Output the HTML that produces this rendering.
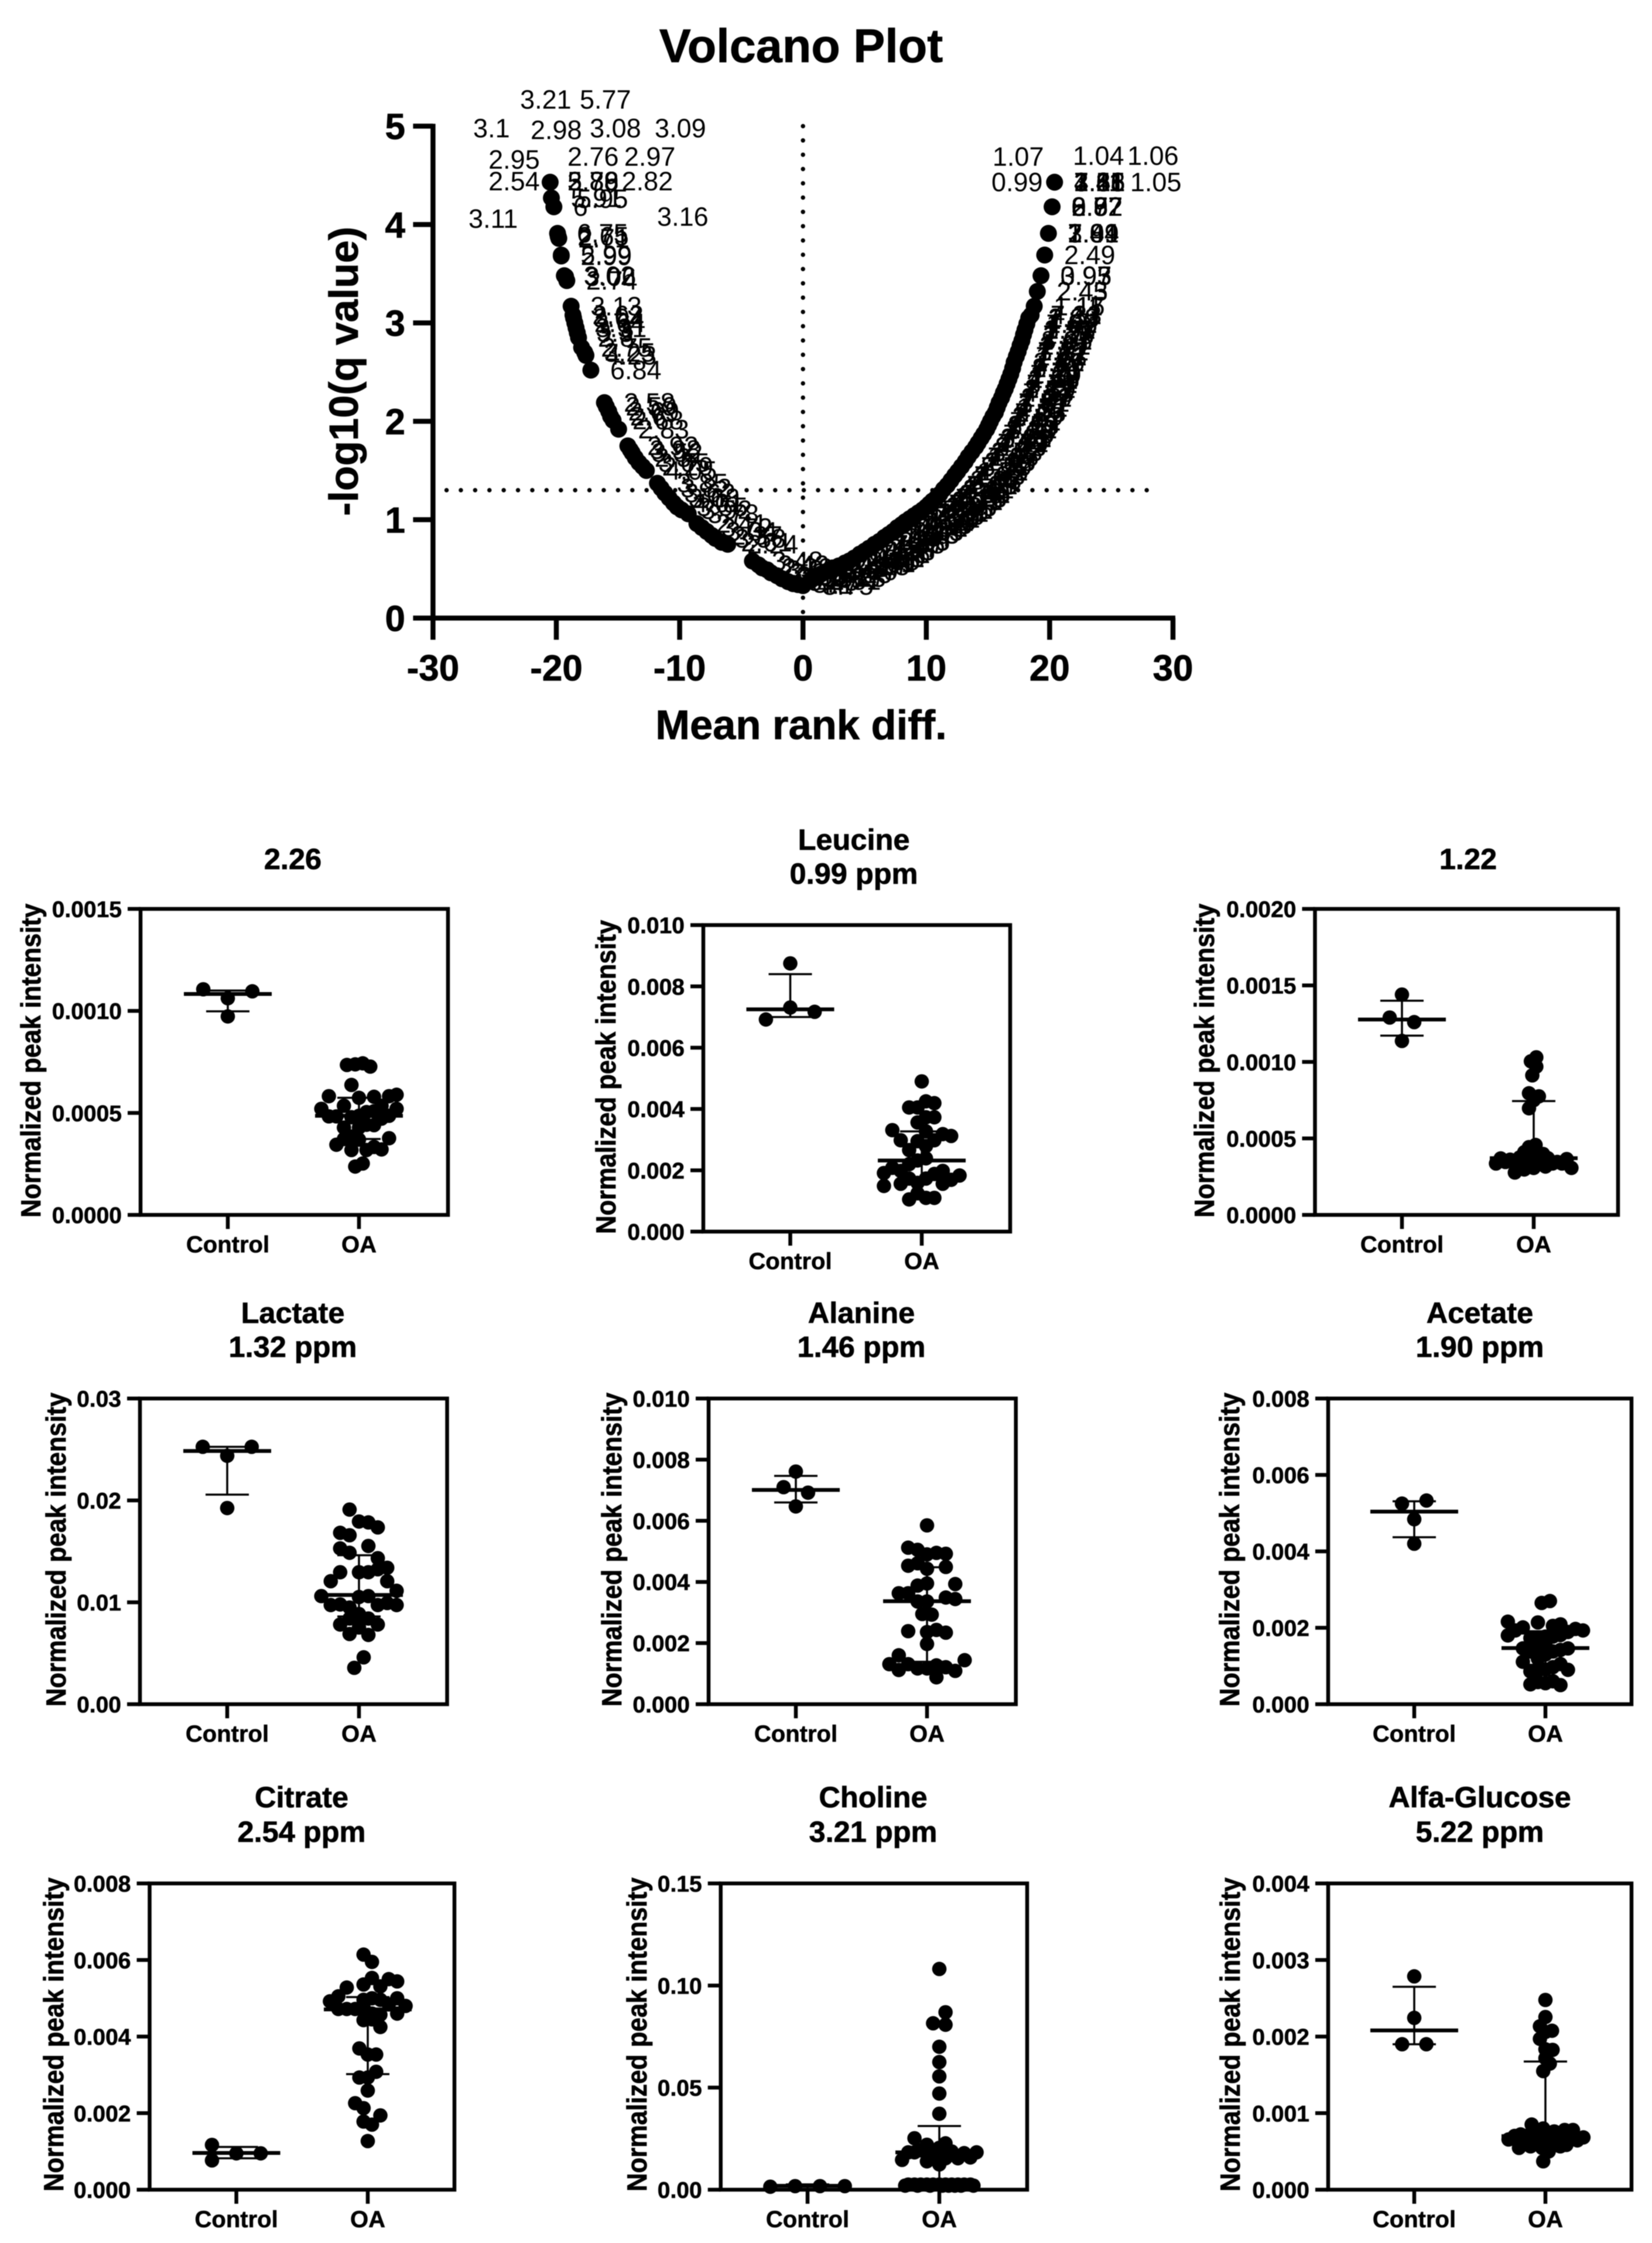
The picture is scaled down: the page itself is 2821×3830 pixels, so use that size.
<!DOCTYPE html>
<html lang="en">
<head>
<meta charset="utf-8">
<title>Volcano Plot and metabolite panels</title>
<style>
html,body{margin:0;padding:0;background:#fff}
svg{display:block;filter:blur(.8px)}
text{font-family:"Liberation Sans",Arial,sans-serif;fill:#000}
.b{font-weight:700;stroke:#000;stroke-width:.8px}
.pt{font-size:50.5px;font-weight:700;text-anchor:middle;stroke:#000;stroke-width:.8px}
.yt{font-size:47px;font-weight:700;text-anchor:middle;stroke:#000;stroke-width:.8px}
</style>
</head>
<body>
<svg id="figure" xmlns="http://www.w3.org/2000/svg" width="2821" height="3830" viewBox="0 0 2821 3830">
<rect width="2821" height="3830" fill="#fff"/>

<g id="volcano">
<text class="b" x="1368" y="106" font-size="81" text-anchor="middle">Volcano Plot</text>
<text class="b" x="1368" y="1262" font-size="70.5" text-anchor="middle">Mean rank diff.</text>
<text class="b" transform="translate(611,634) rotate(-90)" font-size="70" text-anchor="middle">-log10(q value)</text>
</g>

<g id="panel-0">
<text class="pt" x="500" y="1484">2.26</text>
<text class="yt" transform="translate(69,1811) rotate(-90)" textLength="536" lengthAdjust="spacingAndGlyphs">Normalized peak intensity</text>
</g>
<g id="panel-1">
<text class="pt" x="1458" y="1451">Leucine</text>
<text class="pt" x="1458" y="1509">0.99 ppm</text>
<text class="yt" transform="translate(1051,1839) rotate(-90)" textLength="536" lengthAdjust="spacingAndGlyphs">Normalized peak intensity</text>
</g>
<g id="panel-2">
<text class="pt" x="2507" y="1484">1.22</text>
<text class="yt" transform="translate(2073,1811) rotate(-90)" textLength="536" lengthAdjust="spacingAndGlyphs">Normalized peak intensity</text>
</g>
<g id="panel-3">
<text class="pt" x="500" y="2259">Lactate</text>
<text class="pt" x="500" y="2317">1.32 ppm</text>
<text class="yt" transform="translate(112,2646) rotate(-90)" textLength="536" lengthAdjust="spacingAndGlyphs">Normalized peak intensity</text>
</g>
<g id="panel-4">
<text class="pt" x="1471" y="2259">Alanine</text>
<text class="pt" x="1471" y="2317">1.46 ppm</text>
<text class="yt" transform="translate(1061,2646) rotate(-90)" textLength="536" lengthAdjust="spacingAndGlyphs">Normalized peak intensity</text>
</g>
<g id="panel-5">
<text class="pt" x="2527" y="2259">Acetate</text>
<text class="pt" x="2527" y="2317">1.90 ppm</text>
<text class="yt" transform="translate(2116,2646) rotate(-90)" textLength="536" lengthAdjust="spacingAndGlyphs">Normalized peak intensity</text>
</g>
<g id="panel-6">
<text class="pt" x="515" y="3086">Citrate</text>
<text class="pt" x="515" y="3145">2.54 ppm</text>
<text class="yt" transform="translate(108,3474) rotate(-90)" textLength="536" lengthAdjust="spacingAndGlyphs">Normalized peak intensity</text>
</g>
<g id="panel-7">
<text class="pt" x="1491" y="3086">Choline</text>
<text class="pt" x="1491" y="3145">3.21 ppm</text>
<text class="yt" transform="translate(1104,3474) rotate(-90)" textLength="536" lengthAdjust="spacingAndGlyphs">Normalized peak intensity</text>
</g>
<g id="panel-8">
<text class="pt" x="2527" y="3086">Alfa-Glucose</text>
<text class="pt" x="2527" y="3145">5.22 ppm</text>
<text class="yt" transform="translate(2117,3474) rotate(-90)" textLength="536" lengthAdjust="spacingAndGlyphs">Normalized peak intensity</text>
</g>
</svg>

<script>
/* ---------- volcano data ---------- */
const volcanoXTicks = ["-30","-20","-10","0","10","20","30"];
const volcanoYTicks = ["0","1","2","3","4","5"];
const qThreshold = 1.3;

const leftX = [-20.5,-20.4,-20.2,-19.9,-19.85,-19.8,-19.6,-19.6,-19.35,-19.25,-19.15,-18.8,-18.65,-18.6,-18.5,-18.4,-18.3,-18.2,-17.95,-17.7,-17.6,-17.2,-16.1,-15.95,-15.75,-15.6,-15.4,-14.95,-14.2,-14,-13.85,-13.6,-13.3,-13,-12.7,-11.8,-11.5,-11.2,-10.85,-10.5,-10.2,-9.85,-9.3,-8.6,-8.2,-7.8,-7.4,-7.1,-6.6,-6.1,-4.1,-3.6,-3.3,-2.9,-2.6,-2.1,-1.7,-1.2,-0.8,-0.4,0];
const leftY = [4.43,4.27,4.18,3.91,3.88,3.86,3.69,3.68,3.48,3.47,3.43,3.17,3.08,3.05,3.0,2.95,2.9,2.85,2.75,2.7,2.67,2.52,2.19,2.15,2.1,2.05,2.01,1.92,1.75,1.71,1.68,1.63,1.58,1.54,1.5,1.37,1.32,1.27,1.22,1.17,1.13,1.1,1.06,0.96,0.92,0.88,0.84,0.81,0.77,0.75,0.58,0.54,0.51,0.49,0.46,0.43,0.4,0.37,0.35,0.34,0.33];
const leftLabels = ["","5.91","6","6.75","2.65","2.71","5.99","2.99","3.02","3.06","2.74","3.13","2.62","3.04","2.64","3.31","3.3","2.8","2.75","3.25","4.23","6.84","2.58","2.59","2.69","2.6","2.68","2.83","2.92","3.98","3.52","2.3","3.65","2.29","4.05","3.85","3.82","3.62","3.68","4.01","3.55","3.92","3.78","2.41","3.72","3.34","2.37","3.58","2.61","2.24","3.48","3.42","2.33","3.61","2.31","3.38","2.35","3.45","3.7","4.1","3.75"];

const rightX = [20.4,20.2,19.9,19.6,19.3,19,18.75,18.5,18.3,18.15,18,17.88,17.75,17.6,17.45,17.3,17.12,17,16.85,16.7,16.55,16.4,16.25,16.1,15.9,15.75,15.6,15.4,15.2,15.05,14.9,14.65,14.45,14.2,14,13.7,13.4,13.15,12.85,12.55,12.3,12,11.7,11.4,11.1,10.8,10.5,10.25,10,9.7,9.35,9,8.65,8.3,8,7.65,7.3,6.95,6.6,6.2,5.8,5.35,5,4.6,4.15,3.75,3.4,2.9,2.4,2,1.5,1,0.6];
const rightY = [4.43,4.18,3.91,3.69,3.48,3.32,3.17,3.08,3.05,2.99,2.93,2.88,2.82,2.77,2.71,2.66,2.6,2.54,2.48,2.43,2.38,2.33,2.29,2.24,2.19,2.14,2.09,2.05,2,1.96,1.92,1.87,1.83,1.78,1.74,1.69,1.64,1.59,1.54,1.49,1.45,1.4,1.35,1.31,1.26,1.22,1.19,1.16,1.13,1.1,1.07,1.04,1.01,0.98,0.95,0.92,0.88,0.85,0.82,0.78,0.75,0.71,0.68,0.65,0.61,0.58,0.56,0.53,0.51,0.48,0.45,0.41,0.38];
const rightLabels = [
"7.45 3.88 2.41 4.11 1.25 3.55 1.66 7.81","8.52 2.72 0.87 3.92 6.62","7.01 2.84 1.94 3.44 7.09","2.49","0.97 3.95 3.93","2.43 2.45","1.17 1.11 1.15",
"4.13 7.31","1.43 2.39","7.25 1.88 4.02","3.91 1.53","7.75 2.33 1.37","4.61 8.05","2.21 1.61","7.17 3.81 1.72",
"1.21 7.63","4.41 2.27 3.86","1.97 8.11","7.39 1.39","2.13 4.55 1.49","3.74 7.21","1.81 8.37 2.19","4.17 7.53",
"1.31 2.09","7.87 3.71 1.57","4.31 1.77","2.05 7.13 8.23","1.69 3.67","4.47 7.41","2.17 1.63 3.59","8.31 1.29",
"7.69 4.25","1.91 3.63 2.11","4.71 1.59 7.27","2.03 8.45","3.77 1.83","7.05 4.37 1.47","2.15 1.99","8.19 3.57 7.59",
"1.75 4.81","2.07 7.93 1.33","3.83 4.67","1.85 7.49 2.01","8.61 1.41","3.69 4.91 1.55","7.15 2.23","1.79 8.15 4.21",
"3.97 7.67","1.95 2.25 4.35","8.41 7.35","1.89 3.87 4.51","2.35 7.57","1.51 8.27 3.79","4.65 7.11","1.93 3.99",
"2.31 7.85 4.85","8.09 1.73","3.73 4.45 7.23","1.87 2.47","8.55 3.89","4.57 7.47 1.65","2.37 3.47","8.33 4.75",
"1.45 7.71","3.51 2.51 4.95","8.47 1.35","7.61 3.49","4.27 2.53","1.27 8.67","7.77 3.29","2.55 4.15","1.23 3.27","8.71 2.57"];

const extraLabels = ["3.21","5.77","3.1","2.98","3.08","3.09","2.95","2.76","2.97","2.54","2.82","5.78","2.88","5.89","2.86","3.88","3.11","3.16","5.95","1.07","1.04","1.06","0.99","1.05"];
const extraX = [-22.94,-18.1,-26.74,-22.09,-17.29,-12.02,-25.5,-19.1,-14.5,-25.5,-14.7,-19.1,-19.1,-19.1,-19.1,-19.1,-27.12,-11.83,-18.34,15.37,21.88,26.3,15.28,26.53];
const extraY = [5.27,5.27,4.98,4.96,4.98,4.98,4.66,4.69,4.69,4.44,4.44,4.44,4.44,4.44,4.44,4.44,4.06,4.08,4.26,4.69,4.7,4.7,4.43,4.43];

/* ---------- group panel data ---------- */
const categories = ["Control","OA"];

const p0Ticks = ["0.0000","0.0005","0.0010","0.0015"];
const p0Ctrl = [0.001106,0.001062,0.000973,0.001096];
const p0CtrlSlots = [-3.26,0,0,3.26];
const p0CtrlStats = [0.001083,0.0011,0.000998];
const p0Oa = [.000735,.000738,.000743,.000727,.000637,.000582,.000574,.000579,.000582,.000589,.000520,.000535,.000535,.000520,.000483,.000483,.000479,.000486,.000504,.000508,.000486,.000472,.000428,.000428,.000442,.000440,.000384,.000372,.000376,.000369,.000344,.000318,.000318,.000321,.000333,.000237,.000252];
const p0OaSlots = [-1.6,-.5,.5,1.5,-1,-4,0,2,4,5,-5,-2,3,5,-4,-3,-1,0,1,2,4,3,-2,0,1,2,-1,-2,4,0,-3,-1,1,3,2,-.5,.5];
const p0OaStats = [0.000486,0.000574,0.000372];

const p1Ticks = ["0.000","0.002","0.004","0.006","0.008","0.010"];
const p1Ctrl = [.00692,.00731,.00717,.00875];
const p1CtrlSlots = [-2.9,0,2.9,0];
const p1CtrlStats = [.00725,.0084,.0070];
const p1Oa = [.0049,.00405,.00405,.00425,.00419,.00356,.00373,.00373,.00331,.00327,.00318,.00312,.00298,.00295,.00298,.00279,.00266,.00232,.00239,.0022,.00208,.00191,.00198,.00198,.00188,.00183,.00169,.00173,.00173,.00159,.00156,.00156,.00149,.00125,.00105,.0011,.0011];
const p1OaSlots = [0,-1.5,-.5,.5,1.5,-.5,.5,1.5,-3.5,.5,2.5,3.5,-2.5,-.5,1.5,.5,-1.5,-.5,.5,-1.5,-3.5,-4.5,-2.5,2.5,1.5,4.5,3.5,.5,-1.5,-.5,2.5,-2.5,-4.5,-.5,-1.5,.5,1.5];
const p1OaStats = [.00232,.00327,.0017];

const p2Ticks = ["0.0000","0.0005","0.0010","0.0015","0.0020"];
const p2Ctrl = [.00144,.00129,.00126,.001137];
const p2CtrlSlots = [0,-2.6,2.6,0];
const p2CtrlStats = [.001277,.0014,.001172];
const p2Oa = [.00103,.001004,.000969,.000912,.000795,.000775,.00075,.000697,.000457,.000443,.00041,.000398,.000414,.000371,.000365,.000369,.000361,.000375,.000336,.000307,.000277,.000307,.000346,.000316,.000336,.000355,.000355,.000346,.000336,.000336,.000297,.000355,.000336,.000316,.000355,.000326];
const p2OaSlots = [.55,-.6,.55,-.3,-1,1.1,0,-1,.4,-1,-2,2,-.3,3,7,-7,-5,-3,-8,8,-4,0,5,2.5,-2,.7,-1,-6,6,4,-2,0,1.4,-1,2,-3];
const p2OaStats = [.000371,.000744,.00033];

const p3Ticks = ["0.00","0.01","0.02","0.03"];
const p3Ctrl = [.02526,.02438,.01925,.02526];
const p3CtrlSlots = [-2.6,0,0,2.6];
const p3CtrlStats = [.02485,.02526,.02057];
const p3Oa = [.0191,.01793,.01784,.01735,.01682,.01658,.01553,.01529,.01486,.01433,.01339,.01324,.01295,.01295,.01295,.01207,.01207,.01113,.01061,.01052,.01061,.00973,.00979,.00949,.00973,.00993,.00973,.00885,.00841,.00841,.00782,.00782,.00753,.00689,.0068,.0046,.00357];
const p3OaSlots = [-1,0,1,2,-2,-1,1,-2,-1,2,3,2,1,0,-2,-3,3,4,-4,0,1,-3,-2,-1,2,3,4,0,-1,1,-2,2,0,-1,1,.5,-.5];
const p3OaStats = [.01072,.01462,.00861];

const p4Ticks = ["0.000","0.002","0.004","0.006","0.008","0.010"];
const p4Ctrl = [.00761,.0071,.00692,.00647];
const p4CtrlSlots = [0,-1.3,1.3,0];
const p4CtrlStats = [.00701,.00747,.0066];
const p4Oa = [.00585,.00512,.00505,.0049,.00495,.00492,.00453,.00461,.00443,.00449,.00393,.00395,.00388,.00363,.00363,.00336,.00336,.00349,.00344,.00295,.00293,.00239,.00236,.00243,.00234,.00197,.0016,.00131,.00131,.00127,.00121,.00144,.00112,.00117,.00117,.00109,.00088];
const p4OaSlots = [0,-2,-1,0,1,2,-2,-1,0,2,3,0,-1,-3,-2,-1,0,2,3,-.5,.5,-2,0,1,2,0,-3,-4,-2,1,2,4,-3,-1,0,3,1];
const p4OaStats = [.00337,.00448,.00139];

const p5Ticks = ["0.000","0.002","0.004","0.006","0.008"];
const p5Ctrl = [.00525,.00533,.00484,.0042];
const p5CtrlSlots = [-1.63,1.63,0,0];
const p5CtrlStats = [.00504,.00531,.00437];
const p5Oa = [.00265,.0027,.00216,.00214,.00209,.00205,.00201,.00193,.0018,.00197,.00193,.00189,.00173,.00173,.00177,.00177,.00181,.00154,.00154,.00146,.00138,.00142,.00146,.00138,.0013,.00111,.00119,.00105,.00097,.00091,.00086,.000875,.0009,.00058,.0006,.00052,.00055,.0005];
const p5OaSlots = [-.5,.6,-5,-1,2,1,-3,-4,-5,4,5,3,-2,-1,0,1,2,0,-1,-3,1,2,3,-2,0,-3,-1,2,1,0,-2,-1,3,-1,1,-2,0,2];
const p5OaStats = [.00147,.00191,.00103];

const p6Ticks = ["0.000","0.002","0.004","0.006","0.008"];
const p6Ctrl = [.00117,.00095,.00095,.000765];
const p6CtrlSlots = [-2.9,0,2.9,-2.9];
const p6CtrlStats = [.00096,.001116,.00082];
const p6Oa = [.00614,.00595,.00553,.00536,.00531,.0055,.00544,.00528,.00505,.00492,.00496,.005,.00496,.005,.0048,.00472,.00472,.00472,.00476,.00484,.0046,.00457,.0046,.00443,.00445,.00425,.00369,.00353,.00353,.00308,.00293,.00293,.00259,.00226,.00213,.00194,.00178,.0017,.00127];
const p6OaSlots = [-.5,.5,.5,-.5,1.5,2.5,3.5,-2.5,-3.5,-4.5,-.5,.5,1.5,3.5,4.5,-3.5,-2.5,-1.5,-.5,2.5,3.5,1.5,.5,-.5,.5,1.5,-1,0,1,1,0,-1,0,-1.5,-.5,1.5,-.5,.5,0];
const p6OaStats = [.00471,.00503,.00302];

const p7Ticks = ["0.00","0.05","0.10","0.15"];
const p7Ctrl = [.00146,.00176,.00176,.00176];
const p7CtrlSlots = [-6,-2,2,6];
const p7CtrlStats = [.0019,.0026,.0003];
const p7Oa = [.1081,.0869,.0815,.0808,.07,.0625,.0555,.0471,.0372,.0252,.0227,.022,.0187,.0179,.0183,.0183,.0146,.0183,.0139,.0187,.0205,.0124,.0154,.0154,.0158,.0193,.0154,.0025,.0025,.0025,.0025,.0025,.0025,.0025,.0025,.0025,.0025,.0025,.002,.002,.002,.002,.002,.002,.002,.002];
const p7OaSlots = [0,1,-1,1,0,0,0,0,0,-4,1,-2,2,4,6,-5,-6,-4,-2,-1,0,0,1,3,5,-3,-1,-5,-4,-3,-2,-1,0,1,2,3,4,5,-5.5,-3.5,-1.5,.5,1.5,2.5,3.5,5.5];
const p7OaStats = [.0183,.0312,.005];

const p8Ticks = ["0.000","0.001","0.002","0.003","0.004"];
const p8Ctrl = [.002786,.002244,.0019,.0019];
const p8CtrlSlots = [0,0,-2.2,2.2];
const p8CtrlStats = [.00208,.00265,.0019];
const p8Oa = [.002478,.002255,.002134,.002076,.00197,.00206,.001834,.001826,.001717,.001647,.001549,.000851,.0008,.000761,.00078,.00078,.000656,.000702,.000722,.000702,.000722,.000683,.000683,.000683,.000644,.000683,.000546,.000566,.000546,.0005,.000566,.000585,.000371,.000644,.000624,.000605];
const p8OaSlots = [0,0,-1,1.2,-1,0,0,1.3,0,.8,-.4,-2.5,-.4,1.6,3.5,5,-6.7,-5.6,-4.5,-3.6,-1.7,.8,2.4,4.4,5.8,6.9,-4.8,-2.7,-.6,.6,2.7,3.8,-.4,-1.4,-3.9,1.6];
const p8OaStats = [.0007,.001674,.0006];

/* ---------- layout (pixel geometry, separate from the data) ---------- */
const layouts = [
 {left:240,right:765,top:1552,bottom:2074.5,c1:389,c2:613,step:12.85},
 {left:1201,right:1725,top:1579.6,bottom:2103,c1:1349.5,c2:1574,step:14.35},
 {left:2245.5,right:2763,top:1552,bottom:2074.5,c1:2394,c2:2619,step:8.05},
 {left:239,right:763.5,top:2388,bottom:2910,c1:388,c2:613,step:16.07},
 {left:1210,right:1734.7,top:2388,bottom:2910,c1:1359,c2:1583,step:16.07},
 {left:2268,right:2786,top:2388,bottom:2910,c1:2415,c2:2639,step:12.83},
 {left:255.5,right:776,top:3216,bottom:3739,c1:403.6,c2:628,step:14.35},
 {left:1230.7,right:1754,top:3216,bottom:3739,c1:1379,c2:1604,step:10.6},
 {left:2268,right:2786,top:3216,bottom:3739,c1:2415,c2:2639,step:9.4}
];
const panelData = [
 [p0Ticks,p0Ctrl,p0CtrlSlots,p0CtrlStats,p0Oa,p0OaSlots,p0OaStats],
 [p1Ticks,p1Ctrl,p1CtrlSlots,p1CtrlStats,p1Oa,p1OaSlots,p1OaStats],
 [p2Ticks,p2Ctrl,p2CtrlSlots,p2CtrlStats,p2Oa,p2OaSlots,p2OaStats],
 [p3Ticks,p3Ctrl,p3CtrlSlots,p3CtrlStats,p3Oa,p3OaSlots,p3OaStats],
 [p4Ticks,p4Ctrl,p4CtrlSlots,p4CtrlStats,p4Oa,p4OaSlots,p4OaStats],
 [p5Ticks,p5Ctrl,p5CtrlSlots,p5CtrlStats,p5Oa,p5OaSlots,p5OaStats],
 [p6Ticks,p6Ctrl,p6CtrlSlots,p6CtrlStats,p6Oa,p6OaSlots,p6OaStats],
 [p7Ticks,p7Ctrl,p7CtrlSlots,p7CtrlStats,p7Oa,p7OaSlots,p7OaStats],
 [p8Ticks,p8Ctrl,p8CtrlSlots,p8CtrlStats,p8Oa,p8OaSlots,p8OaStats]
];

/* ---------- drawing ---------- */
const NS = "http://www.w3.org/2000/svg";
function mk(parent, tag, attrs, name, content) {
  const el = document.createElementNS(NS, tag);
  for (const k in attrs) el.setAttribute(k, attrs[k]);
  
  
  if (content !== undefined) el.textContent = content;
  parent.appendChild(el);
  return el;
}
function line(parent, x1, y1, x2, y2, w, name, extra) {
  return mk(parent, 'line', Object.assign({x1:x1,y1:y1,x2:x2,y2:y2,stroke:'#000','stroke-width':w}, extra || {}), name);
}

/* volcano */
(function () {
  const g = document.getElementById('volcano');
  const sx = v => 1371.2 + v * 21.06;
  const sy = v => 1055.4 - v * 168;
  const LABEL_OFFSET = 33;
  line(g, sx(-30), sy(5) - 4, sx(-30), sy(0) + 4, 8.5, 'y-axis-line');
  line(g, sx(-30) - 4, sy(0), sx(30) + 4, sy(0), 8.5, 'x-axis-line');
  volcanoXTicks.forEach(t => {
    const v = parseFloat(t);
    line(g, sx(v), sy(0), sx(v), sy(0) + 37, 8.5, 'x-tick');
    mk(g, 'text', {x:sx(v), y:1162, 'font-size':62, 'font-weight':700, 'text-anchor':'middle', stroke:'#000', 'stroke-width':.8}, 'x-tick-label', t);
  });
  volcanoYTicks.forEach(t => {
    const v = parseFloat(t);
    line(g, sx(-30) - 34, sy(v), sx(-30), sy(v), 8.5, 'y-tick');
    mk(g, 'text', {x:692, y:sy(v) + 22, 'font-size':62, 'font-weight':700, 'text-anchor':'end', stroke:'#000', 'stroke-width':.8}, 'y-tick-label', t);
  });
  const dots = {stroke:'#000','stroke-width':7.5,'stroke-linecap':'round','stroke-dasharray':'0 24.4'};
  line(g, sx(0), sy(5), sx(0), sy(0) + 10, 7.5, 'zero-difference-line', dots);
  line(g, sx(-28.9), sy(qThreshold), sx(28.9), sy(qThreshold), 7.5, 'significance-threshold-line', dots);

  function series(xs, ys, labels, side) {
    xs.forEach((x, i) => {
      mk(g, 'circle', {cx:sx(x), cy:sy(ys[i]), r:14.5, fill:'#000'}, side + '-point');
    });
    xs.forEach((x, i) => {
      labels[i].split(' ').filter(Boolean).forEach(txt => {
        mk(g, 'text', {x:sx(x) + LABEL_OFFSET, y:sy(ys[i]) + 15.5, 'font-size':45}, side + '-point-label', txt);
      });
    });
  }
  series(leftX, leftY, leftLabels, 'left');
  series(rightX, rightY, rightLabels, 'right');
  extraLabels.forEach((txt, i) => {
    mk(g, 'text', {x:sx(extraX[i]), y:sy(extraY[i]) + 15.5, 'font-size':45}, 'repelled-point-label', txt);
  });
})();

/* group panels */
layouts.forEach((L, idx) => {
  const g = document.getElementById('panel-' + idx);
  const d = panelData[idx];
  const ticks = d[0];
  const ymax = parseFloat(ticks[ticks.length - 1]);
  const sy = v => L.bottom - (v / ymax) * (L.bottom - L.top);
  mk(g, 'rect', {x:L.left, y:L.top, width:L.right - L.left, height:L.bottom - L.top, fill:'none', stroke:'#000', 'stroke-width':6.5}, 'plot-frame');
  ticks.forEach(t => {
    const v = parseFloat(t);
    line(g, L.left - 22, sy(v), L.left, sy(v), 6.5, 'y-tick');
    mk(g, 'text', {x:L.left - 32, y:sy(v) + 14, 'font-size':39, 'font-weight':700, 'text-anchor':'end', stroke:'#000', 'stroke-width':.6}, 'y-tick-label', t);
  });
  [L.c1, L.c2].forEach((cx, i) => {
    line(g, cx, L.bottom, cx, L.bottom + 24, 6.5, 'x-tick');
    mk(g, 'text', {x:cx, y:L.bottom + 64, 'font-size':40, 'font-weight':700, 'text-anchor':'middle', stroke:'#000', 'stroke-width':.6}, 'x-tick-label', categories[i]);
  });
  function group(cx, vals, slots, stats, name) {
    vals.forEach((v, i) => {
      mk(g, 'circle', {cx:cx + slots[i] * L.step, cy:sy(v), r:12.3, fill:'#000'}, name + '-point');
    });
    line(g, cx, sy(stats[1]), cx, sy(stats[2]), 3.5, name + '-error-bar');
    line(g, cx - 37, sy(stats[1]), cx + 37, sy(stats[1]), 3.5, name + '-upper-cap');
    line(g, cx - 37, sy(stats[2]), cx + 37, sy(stats[2]), 3.5, name + '-lower-cap');
    line(g, cx - 75, sy(stats[0]), cx + 75, sy(stats[0]), 6.5, name + '-median-line');
  }
  group(L.c1, d[1], d[2], d[3], 'control');
  group(L.c2, d[4], d[5], d[6], 'oa');
});
</script>
</body>
</html>
